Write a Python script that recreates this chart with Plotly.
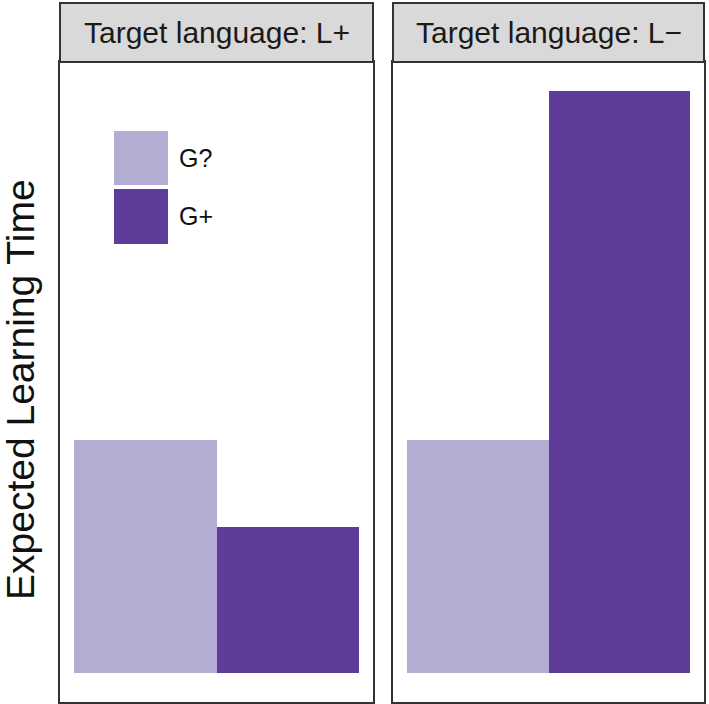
import plotly.graph_objects as go

# ---- data ----
panels = ["Target language: L+", "Target language: L\u2212"]
groups = ["G?", "G+"]
values_Lplus = [0.40, 0.25]
values_Lminus = [0.40, 1.00]
colors = ["#b3acd3", "#5e3c99"]
y_title = "Expected Learning Time"

W, H = 709, 704
ml, mr, mt, mb = 60, 5, 3, 2
pw = W - ml - mr
ph = H - mt - mb
panel_w = 313
gap = 20
strip_h = 59
panel_h = ph - strip_h

x1_dom = [0, panel_w / pw]
x2_dom = [(panel_w + gap) / pw, 1]
y_dom = [0, panel_h / ph]

fig = go.Figure()
for i, (vals, xa, ya) in enumerate([(values_Lplus, "x", "y"), (values_Lminus, "x2", "y2")]):
    for j, g in enumerate(groups):
        fig.add_trace(go.Bar(
            x=[j + 1], y=[vals[j]], width=1, name=g,
            marker=dict(color=colors[j], line=dict(width=0)),
            xaxis=xa, yaxis=ya, showlegend=False,
        ))

font = "Liberation Sans, Arial, Helvetica, sans-serif"
axis_common = dict(showline=True, linecolor="#333333", linewidth=2, mirror=True,
                   showgrid=False, zeroline=False, showticklabels=False, ticks="")
fig.update_layout(
    width=W, height=H,
    margin=dict(l=ml, r=mr, t=mt, b=mb),
    paper_bgcolor="white", plot_bgcolor="white",
    bargap=0,
    font=dict(family=font, color="#111111"),
    xaxis=dict(domain=x1_dom, range=[0.4, 2.6], **axis_common),
    yaxis=dict(domain=y_dom, range=[-0.05, 1.05], **axis_common),
    xaxis2=dict(domain=x2_dom, range=[0.4, 2.6], anchor="y2", **axis_common),
    yaxis2=dict(domain=y_dom, range=[-0.05, 1.05], anchor="x2", **axis_common),
    showlegend=False,
)

strip_top = 1 + strip_h / panel_h
for k, (xr, yr) in enumerate([("x domain", "y domain"), ("x2 domain", "y2 domain")]):
    fig.add_shape(type="rect", xref=xr, yref=yr, x0=0, x1=1, y0=1, y1=strip_top,
                  fillcolor="#d9d9d9", line=dict(color="#333333", width=2), layer="above")
    fig.add_annotation(xref=xr, yref=yr, x=0.5, y=(1 + strip_top) / 2,
                       text=panels[k], showarrow=False,
                       font=dict(size=30, color="#1a1a1a", family=font),
                       xanchor="center", yanchor="middle")

# legend drawn inside the left panel
sw = [(0.892, 0.808), (0.8016, 0.7156)]
for j, g in enumerate(groups):
    fig.add_shape(type="rect", xref="x domain", yref="y domain",
                  x0=0.1725, x1=0.345, y0=sw[j][1], y1=sw[j][0],
                  fillcolor=colors[j], line=dict(width=0))
    fig.add_annotation(xref="x domain", yref="y domain", x=0.375,
                       y=(sw[j][0] + sw[j][1]) / 2, text=g, showarrow=False,
                       xanchor="left", yanchor="middle",
                       font=dict(size=25, color="#111111", family=font))

fig.add_annotation(xref="paper", yref="paper", x=0, y=(702 - 390) / ph,
                   xshift=-40, text=y_title, textangle=-90, showarrow=False,
                   xanchor="center", yanchor="middle",
                   font=dict(size=39, color="#111111", family=font))

fig.write_html("out.html",
               config={"displayModeBar": False},
               post_script="document.body.style.margin='0';document.body.style.padding='0';")
